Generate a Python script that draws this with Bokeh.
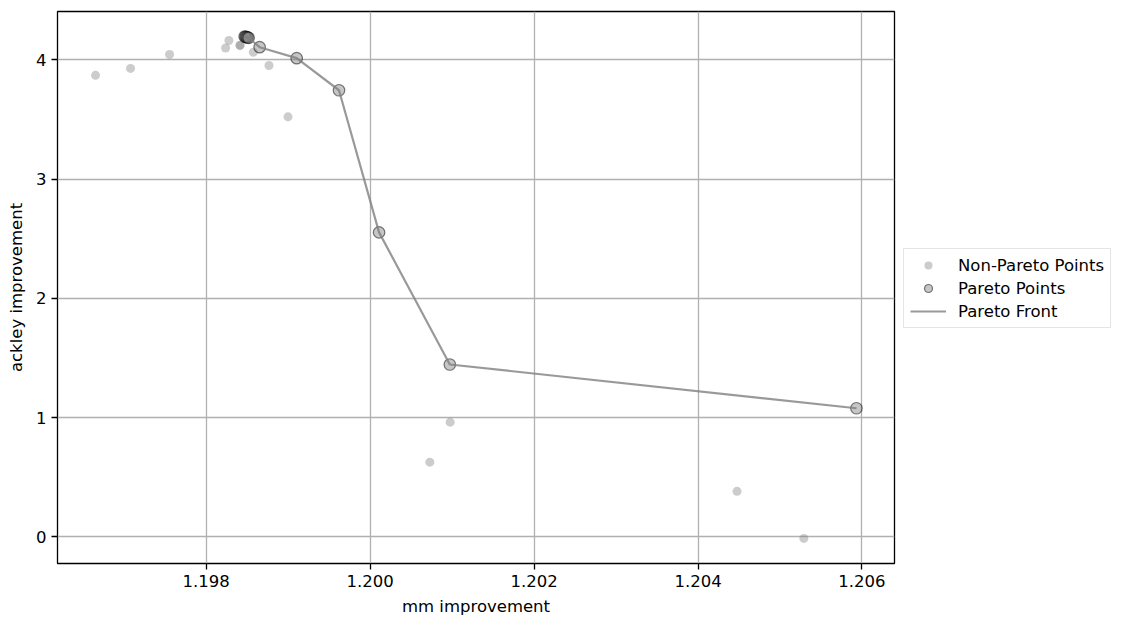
from bokeh.plotting import figure
from bokeh.layouts import row
from bokeh.models import Range1d, FixedTicker, Legend, LegendItem
from bokeh.embed import file_html
from bokeh.resources import INLINE

# Non-Pareto points
non_x = [1.196650, 1.197077, 1.197553, 1.198237, 1.198277, 1.198411, 1.198414,
         1.198575, 1.198766, 1.198998, 1.200976, 1.200728, 1.204476, 1.205291]
non_y = [3.871, 3.929, 4.046, 4.100, 4.163, 4.121, 4.124,
         4.065, 3.954, 3.523, 0.9625, 0.627, 0.382, -0.0125]

# Pareto points (sorted by mm improvement)
par_x = [1.198469, 1.198481, 1.198493, 1.198505, 1.198518,
         1.198652, 1.199104, 1.199620, 1.200109, 1.200972, 1.205933]
par_y = [4.196, 4.194, 4.191, 4.189, 4.186,
         4.107, 4.015, 3.746, 2.554, 1.446, 1.079]

x_ticks = [1.198, 1.200, 1.202, 1.204, 1.206]
x_tick_labels = ["1.198", "1.200", "1.202", "1.204", "1.206"]
y_ticks = [0, 1, 2, 3, 4]
y_tick_labels = ["0", "1", "2", "3", "4"]

x_label = "mm improvement"
y_label = "ackley improvement"
legend_labels = ["Non-Pareto Points", "Pareto Points", "Pareto Front"]

all_x = non_x + par_x
all_y = non_y + par_y
xmin, xmax = min(all_x), max(all_x)
ymin, ymax = min(all_y), max(all_y)
xpad = (xmax - xmin) * 0.05
ypad = (ymax - ymin) * 0.05

FONT = "DejaVu Sans"
FS = "16.5px"

NON_STYLE = dict(size=9, fill_color="gray", fill_alpha=0.4, line_color=None)
PAR_STYLE = dict(size=11.5, fill_color="gray", fill_alpha=0.45,
                 line_color="black", line_alpha=0.5, line_width=1.2)
LINE_STYLE = dict(line_color="gray", line_alpha=0.8, line_width=2.2)

p = figure(width=902, height=618,
           x_range=Range1d(xmin - xpad, xmax + xpad),
           y_range=Range1d(ymin - ypad, ymax + ypad),
           output_backend="svg", toolbar_location=None,
           min_border_left=57, min_border_top=11,
           min_border_right=8, min_border_bottom=53,
           background_fill_color="white", border_fill_color="white")

p.outline_line_color = "black"
p.outline_line_width = 1.3

p.xaxis.ticker = FixedTicker(ticks=x_ticks)
p.yaxis.ticker = FixedTicker(ticks=y_ticks)
p.xaxis.major_label_overrides = {t: l for t, l in zip(x_ticks, x_tick_labels)}
p.yaxis.major_label_overrides = {t: l for t, l in zip(y_ticks, y_tick_labels)}

for ax in (p.xaxis, p.yaxis):
    ax.axis_line_color = None
    ax.minor_tick_line_color = None
    ax.major_tick_in = 0
    ax.major_tick_out = 6
    ax.major_tick_line_color = "black"
    ax.major_tick_line_width = 1.3
    ax.major_label_standoff = 5
    ax.major_label_text_font = FONT
    ax.major_label_text_font_size = FS
    ax.major_label_text_color = "black"
    ax.axis_label_text_font = FONT
    ax.axis_label_text_font_size = FS
    ax.axis_label_text_font_style = "normal"
    ax.axis_label_text_color = "black"
    ax.axis_label_standoff = 7

p.xaxis.axis_label = x_label
p.yaxis.axis_label = y_label

p.grid.grid_line_color = "#b0b0b0"
p.grid.grid_line_width = 1.3

p.scatter(non_x, non_y, **NON_STYLE)
p.scatter(par_x, par_y, **PAR_STYLE)
p.line(par_x, par_y, **LINE_STYLE)

# Separate panel holding the legend (outside the plot frame, like matplotlib).
# Its renderers reuse the data but lie outside this panel's view range.
q = figure(width=212, height=618, output_backend="svg", toolbar_location=None,
           x_range=Range1d(0, 1), y_range=Range1d(0, 1),
           x_axis_location=None, y_axis_location=None,
           min_border=0, outline_line_color=None,
           background_fill_color="white", border_fill_color="white")
q.grid.visible = False
l_non = q.scatter(non_x, non_y, **NON_STYLE)
l_par = q.scatter(par_x, par_y, **PAR_STYLE)
l_line = q.line(par_x, par_y, **LINE_STYLE)

legend = Legend(items=[LegendItem(label=legend_labels[0], renderers=[l_non]),
                       LegendItem(label=legend_labels[1], renderers=[l_par]),
                       LegendItem(label=legend_labels[2], renderers=[l_line])],
                location=(1, 235), margin=0, padding=6, spacing=3,
                glyph_width=36, glyph_height=20, label_height=20,
                label_standoff=12,
                label_text_font=FONT, label_text_font_size=FS,
                label_text_color="black",
                border_line_color="#cccccc", border_line_width=1.3,
                background_fill_color="white", background_fill_alpha=0.8)
q.add_layout(legend)

layout = row(p, q)
open("out.html", "w").write(file_html(layout, INLINE))
